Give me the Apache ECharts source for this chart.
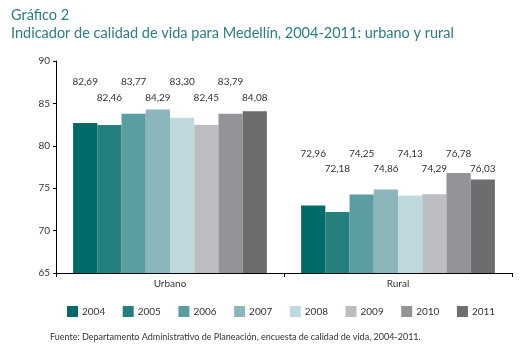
<!DOCTYPE html>
<html>
<head>
<meta charset="utf-8">
<script src="https://cdn.jsdelivr.net/npm/echarts@6/dist/echarts.min.js"></script>
<style>
  html, body { margin: 0; padding: 0; background: #fff; }
  #chart { width: 522px; height: 349px; }
</style>
</head>
<body>
<div id="chart"></div>
<script>
// datos
const categorias = ["Urbano", "Rural"];
const anios = ["2004", "2005", "2006", "2007", "2008", "2009", "2010", "2011"];
const valores = [
  [82.69, 72.96],
  [82.46, 72.18],
  [83.77, 74.25],
  [84.29, 74.86],
  [83.30, 74.13],
  [82.45, 74.29],
  [83.79, 76.78],
  [84.08, 76.03]
];
const colores = ["#006a6b", "#23807f", "#5b9da0", "#8bb6bb", "#bfd9dc", "#bcbdc0", "#929497", "#6c6d6f"];

// altura de las etiquetas (fila superior) por categoria, en unidades del eje
const nivelEtiqueta = [87.65, 79.2];
const pasoFila = 1.85;

const grid = { left: 56, right: 10, top: 61, bottom: 76 };
const yMin = 65, yMax = 90;
const pxPorUnidad = (349 - grid.top - grid.bottom) / (yMax - yMin);

const chart = echarts.init(document.getElementById("chart"));

const series = anios.map((anio, i) => ({
  name: anio,
  type: "bar",
  data: valores[i].map((v, c) => {
    const nivel = nivelEtiqueta[c] - (i % 2) * pasoFila;
    return {
      value: v,
      label: { offset: [0, -(nivel - v) * pxPorUnidad + 6] }
    };
  }),
  itemStyle: { color: colores[i] },
  barGap: "0%",
  barCategoryGap: "15%",
  label: {
    show: true,
    position: "top",
    distance: 0,
    fontFamily: "Lato",
    fontSize: 10,
    color: "#333",
    formatter: (p) => p.value.toFixed(2).replace(".", ",")
  }
}));

chart.setOption({
  animation: false,
  title: [
    {
      text: "Gráfico 2",
      left: 6, top: 3,
      textStyle: { fontFamily: "Lato", fontSize: 14.5, fontWeight: "normal", color: "#2a7d84" }
    },
    {
      text: "Indicador de calidad de vida para Medellín, 2004-2011: urbano y rural",
      left: 6, top: 21,
      textStyle: { fontFamily: "Lato", fontSize: 14.5, fontWeight: "normal", color: "#2a7d84" }
    },
    {
      text: "Fuente: Departamento Administrativo de Planeación, encuesta de calidad de vida, 2004-2011.",
      left: 50, top: 333, padding: 0,
      textStyle: { fontFamily: "Lato", fontSize: 9, fontWeight: "normal", color: "#333" }
    }
  ],
  legend: {
    data: anios,
    left: 67, top: 306, padding: 0,
    itemWidth: 11, itemHeight: 11,
    itemGap: 17.5,
    icon: "rect",
    textStyle: { fontFamily: "Lato", fontSize: 10, color: "#333", padding: [0, 0, 0, -1] }
  },
  grid: grid,
  xAxis: {
    type: "category",
    data: categorias,
    axisLine: { lineStyle: { color: "#000", width: 1 } },
    axisTick: { show: true, length: 4, lineStyle: { color: "#000" } },
    axisLabel: { fontFamily: "Lato", fontSize: 10, color: "#333", margin: 6 }
  },
  yAxis: {
    type: "value",
    min: yMin, max: yMax, interval: 5,
    axisLine: { show: true, lineStyle: { color: "#000", width: 1 } },
    axisTick: { show: true, length: 3, lineStyle: { color: "#000" } },
    axisLabel: { fontFamily: "Lato", fontSize: 10, color: "#333", margin: 6 },
    splitLine: { show: false }
  },
  series: series
});
</script>
</body>
</html>
